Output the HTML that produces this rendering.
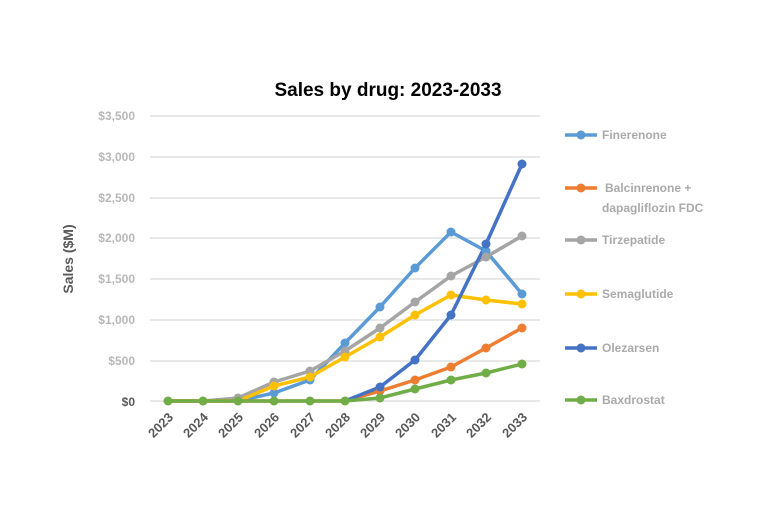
<!DOCTYPE html>
<html><head><style>
body{margin:0;background:#fff;}
svg{display:block;font-family:"Liberation Sans",sans-serif;}
</style></head><body>
<svg width="762" height="508" viewBox="0 0 762 508">
<rect width="762" height="508" fill="#fff"/>
<text x="388" y="96" text-anchor="middle" font-size="19" font-weight="bold" fill="#000">Sales by drug: 2023-2033</text>
<g stroke="#d9d9d9" stroke-width="1.3">
<line x1="150" x2="540" y1="116" y2="116"/><line x1="150" x2="540" y1="157" y2="157"/>
<line x1="150" x2="540" y1="198" y2="198"/><line x1="150" x2="540" y1="238" y2="238"/>
<line x1="150" x2="540" y1="279" y2="279"/><line x1="150" x2="540" y1="320" y2="320"/>
<line x1="150" x2="540" y1="361" y2="361"/><line x1="150" x2="540" y1="401" y2="401"/>
</g>
<g font-size="12" font-weight="bold" fill="#b8b8b8" text-anchor="end">
<text x="135" y="120">$3,500</text><text x="135" y="161">$3,000</text><text x="135" y="202">$2,500</text>
<text x="135" y="242">$2,000</text><text x="135" y="283">$1,500</text><text x="135" y="324">$1,000</text>
<text x="135" y="365">$500</text><text x="135" y="406" fill="#595959">$0</text>
</g>
<text transform="translate(73,259) rotate(-90)" text-anchor="middle" font-size="14" font-weight="bold" fill="#595959">Sales ($M)</text>
<g font-size="13" font-weight="bold" fill="#595959" text-anchor="end">
<text transform="translate(174,418) rotate(-45)">2023</text><text transform="translate(209,418) rotate(-45)">2024</text>
<text transform="translate(244,418) rotate(-45)">2025</text><text transform="translate(280,418) rotate(-45)">2026</text>
<text transform="translate(316,418) rotate(-45)">2027</text><text transform="translate(351,418) rotate(-45)">2028</text>
<text transform="translate(386,418) rotate(-45)">2029</text><text transform="translate(421,418) rotate(-45)">2030</text>
<text transform="translate(457,418) rotate(-45)">2031</text><text transform="translate(492,418) rotate(-45)">2032</text>
<text transform="translate(528,418) rotate(-45)">2033</text>
</g>
<g fill="none" stroke-width="3.5" stroke-linejoin="round">
<polyline stroke="#5b9bd5" points="168,401 203,401 238,401 274,393 310,380 345,343 380,307 415,268 451,232 486,251 522,294"/>
<polyline stroke="#a5a5a5" points="168,401 203,401 238,398 274,382 310,371 345,351 380,328 415,302 451,276 486,257 522,236"/>
<polyline stroke="#ffc000" points="168,401 203,401 238,401 274,386 310,377 345,357 380,337 415,315 451,295 486,300 522,304"/>
<polyline stroke="#ed7d31" points="168,401 203,401 238,401 274,401 310,401 345,401 380,391 415,380 451,367 486,348 522,328"/>
<polyline stroke="#4472c4" points="345,401 380,387 415,360 451,315 486,244 522,164"/>
<polyline stroke="#70ad47" points="168,401 203,401 238,401 274,401 310,401 345,401 380,398 415,389 451,380 486,373 522,364"/>
</g>
<g>
<g fill="#5b9bd5"><circle cx="274" cy="393" r="4.5"/><circle cx="310" cy="380" r="4.5"/><circle cx="345" cy="343" r="4.5"/><circle cx="380" cy="307" r="4.5"/><circle cx="415" cy="268" r="4.5"/><circle cx="451" cy="232" r="4.5"/><circle cx="486" cy="251" r="4.5"/><circle cx="522" cy="294" r="4.5"/></g>
<g fill="#a5a5a5"><circle cx="238" cy="398" r="4.5"/><circle cx="274" cy="382" r="4.5"/><circle cx="310" cy="371" r="4.5"/><circle cx="345" cy="351" r="4.5"/><circle cx="380" cy="328" r="4.5"/><circle cx="415" cy="302" r="4.5"/><circle cx="451" cy="276" r="4.5"/><circle cx="486" cy="257" r="4.5"/><circle cx="522" cy="236" r="4.5"/></g>
<g fill="#ffc000"><circle cx="274" cy="386" r="4.5"/><circle cx="310" cy="377" r="4.5"/><circle cx="345" cy="357" r="4.5"/><circle cx="380" cy="337" r="4.5"/><circle cx="415" cy="315" r="4.5"/><circle cx="451" cy="295" r="4.5"/><circle cx="486" cy="300" r="4.5"/><circle cx="522" cy="304" r="4.5"/></g>
<g fill="#ed7d31"><circle cx="380" cy="391" r="4.5"/><circle cx="415" cy="380" r="4.5"/><circle cx="451" cy="367" r="4.5"/><circle cx="486" cy="348" r="4.5"/><circle cx="522" cy="328" r="4.5"/></g>
<g fill="#4472c4"><circle cx="380" cy="387" r="4.5"/><circle cx="415" cy="360" r="4.5"/><circle cx="451" cy="315" r="4.5"/><circle cx="486" cy="244" r="4.5"/><circle cx="522" cy="164" r="4.5"/></g>
<g fill="#70ad47"><circle cx="168" cy="401" r="4.5"/><circle cx="203" cy="401" r="4.5"/><circle cx="238" cy="401" r="4.5"/><circle cx="274" cy="401" r="4.5"/><circle cx="310" cy="401" r="4.5"/><circle cx="345" cy="401" r="4.5"/><circle cx="380" cy="398" r="4.5"/><circle cx="415" cy="389" r="4.5"/><circle cx="451" cy="380" r="4.5"/><circle cx="486" cy="373" r="4.5"/><circle cx="522" cy="364" r="4.5"/></g>
</g>
<g stroke-width="3.5">
<line x1="565" x2="597" y1="135" y2="135" stroke="#5b9bd5"/><circle cx="581" cy="135" r="4.5" fill="#5b9bd5"/>
<line x1="565" x2="597" y1="188" y2="188" stroke="#ed7d31"/><circle cx="581" cy="188" r="4.5" fill="#ed7d31"/>
<line x1="565" x2="597" y1="240" y2="240" stroke="#a5a5a5"/><circle cx="581" cy="240" r="4.5" fill="#a5a5a5"/>
<line x1="565" x2="597" y1="294" y2="294" stroke="#ffc000"/><circle cx="581" cy="294" r="4.5" fill="#ffc000"/>
<line x1="565" x2="597" y1="348" y2="348" stroke="#4472c4"/><circle cx="581" cy="348" r="4.5" fill="#4472c4"/>
<line x1="565" x2="597" y1="400" y2="400" stroke="#70ad47"/><circle cx="581" cy="400" r="4.5" fill="#70ad47"/>
</g>
<g font-size="12" font-weight="bold" fill="#aaaaaa">
<text x="602" y="139">Finerenone</text>
<text x="605" y="192">Balcinrenone +</text>
<text x="602" y="212">dapagliflozin FDC</text>
<text x="602" y="244">Tirzepatide</text>
<text x="602" y="298">Semaglutide</text>
<text x="602" y="352">Olezarsen</text>
<text x="602" y="404">Baxdrostat</text>
</g>
</svg>
</body></html>
